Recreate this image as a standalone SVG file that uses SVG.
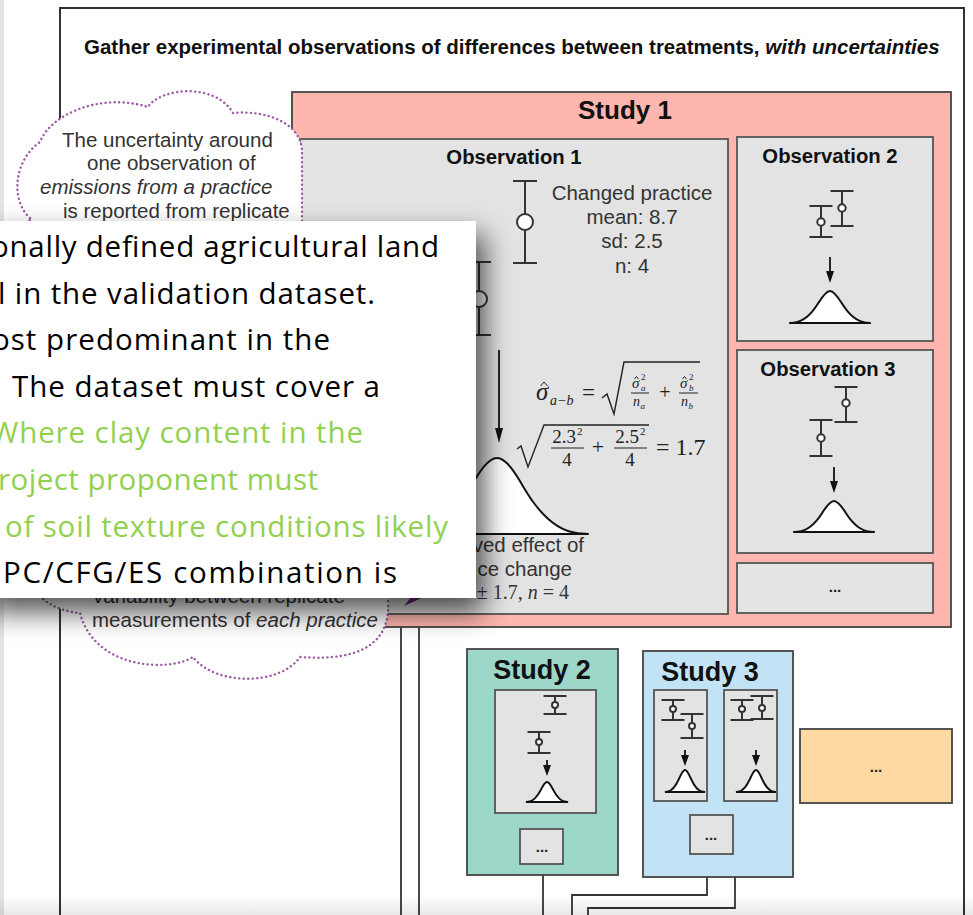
<svg xmlns="http://www.w3.org/2000/svg" xmlns:xlink="http://www.w3.org/1999/xlink" width="973" height="915" viewBox="0 0 973 915">
<style>
.sans{font-family:"Liberation Sans",Arial,sans-serif}
.serif{font-family:"Liberation Serif","Times New Roman",serif}
.frame{fill:none;stroke:#333;stroke-width:2}
.study1{fill:#ffb6ae;stroke:#444;stroke-width:1.8}
.study2{fill:#9dd7c9;stroke:#444;stroke-width:1.8}
.study3{fill:#c2e3f5;stroke:#444;stroke-width:1.8}
.orange{fill:#ffd9a1;stroke:#444;stroke-width:1.8}
.obs{fill:#e3e3e3;stroke:#555;stroke-width:1.8}
.eb{fill:none;stroke:#333;stroke-width:2}
.ebc{fill:#fff;stroke:#333;stroke-width:2}
.bell{fill:#fff;stroke:#111;stroke-width:2}
.conn{fill:none;stroke:#333;stroke-width:1.8}
.head{fill:#111}
.hat{fill:none;stroke:#222;stroke-width:1}
.ttl{font-weight:bold;fill:#111}
.lbl{fill:#333;font-size:20.5px}
.dots{font-weight:bold;font-size:15px;fill:#222}
.cloud{fill:#fff;stroke:#9a5aa0;stroke-width:2.4;stroke-dasharray:0.1 4.4;stroke-linecap:round}
.ov{font-family:"Open Sans","Noto Sans",sans-serif;font-size:29.5px}
.blk{fill:#000}
.grn{fill:#92d050}
</style>
<defs>
<path id="bellp" class="bell" vector-effect="non-scaling-stroke" d="M-3.4 0 L-3 -0.0111 C-2.333 -0.0333 -1.667 -0.2022 -1 -0.6065 C-0.667 -0.8087 -0.333 -1 0 -1 C0.333 -1 0.667 -0.8087 1 -0.6065 C1.667 -0.2022 2.333 -0.0333 3 -0.0111 L3.4 0 Z"/>
<filter id="blur" x="-30%" y="-30%" width="160%" height="160%"><feGaussianBlur stdDeviation="14"/></filter>
<linearGradient id="bot" x1="0" y1="0" x2="0" y2="1"><stop offset="0" stop-color="#000" stop-opacity="0"/><stop offset="1" stop-color="#000" stop-opacity="0.09"/></linearGradient>
</defs>
<rect x="0" y="0" width="973" height="915" fill="#fff"/>
<rect x="0" y="0" width="4" height="915" fill="#e4e4e4"/>

<g id="frame">
<rect class="frame" x="60" y="8" width="904" height="920"/>
<text class="sans ttl" x="84" y="54" font-size="20.5px">Gather experimental observations of differences between treatments, <tspan font-style="italic">with uncertainties</tspan></text>
</g>

<g id="connectors">
<path class="conn" d="M401 627 V915 M419 627 V915"/>
<path class="conn" d="M543 875 V915"/>
<path class="conn" d="M707 877 V895 H572 V915"/>
<path class="conn" d="M735 877 V908 H588 V915"/>
</g>

<g id="study1">
<rect class="study1" x="292" y="92" width="659" height="535"/>
<text class="sans ttl" x="625" y="119" font-size="26px" text-anchor="middle">Study 1</text>
</g>

<g id="observation1">
<rect class="obs" x="300" y="139" width="428" height="475"/>
<text class="sans ttl" x="514" y="164" font-size="20.3px" text-anchor="middle">Observation 1</text>
<path class="eb" d="M525 181 V263 M513 181 H537 M513 263 H537"/>
<circle class="ebc" cx="525" cy="222" r="8"/>
<text class="sans lbl" text-anchor="middle"><tspan x="632" y="200">Changed practice</tspan><tspan x="632" y="224">mean: 8.7</tspan><tspan x="632" y="248">sd: 2.5</tspan><tspan x="632" y="273">n: 4</tspan></text>
<path class="eb" d="M479 262 V335 M467 262 H491 M467 335 H491"/>
<circle class="ebc" cx="479" cy="299" r="8"/>
<line x1="499" y1="350" x2="499" y2="432" stroke="#111" stroke-width="1.8"/>
<polygon class="head" points="495,428 503,428 499,443"/>
<use xlink:href="#bellp" transform="translate(497,534) scale(27,76)"/>
<text class="sans lbl" text-anchor="end"><tspan x="584" y="552">ved effect of</tspan><tspan x="572" y="576">ce change</tspan></text>
<text class="serif" x="569" y="599" font-size="20px" fill="#333" text-anchor="end">± 1.7, <tspan font-style="italic">n</tspan> = 4</text>
<g class="serif" fill="#222">
<text x="536" y="400" font-size="25px" font-style="italic">σ</text>
<polyline class="hat" points="540.5,386 544,382 547.5,386" stroke-width="1.3"/>
<text x="550" y="405" font-size="14px" font-style="italic">a−b</text>
<text x="582" y="400" font-size="23px">=</text>
<polyline points="602,398 607,394 614,414 624,362 700,362" fill="none" stroke="#222" stroke-width="1.4"/>
<text x="632" y="388" font-size="15px" font-style="italic">σ</text>
<polyline class="hat" points="634.5,379 636.5,376.5 638.5,379"/>
<text x="641" y="380" font-size="9px">2</text>
<text x="641" y="391" font-size="9px" font-style="italic">a</text>
<line x1="631" y1="393" x2="649" y2="393" stroke="#222" stroke-width="1"/>
<text x="633" y="406" font-size="14px" font-style="italic">n</text>
<text x="640.5" y="409" font-size="9px" font-style="italic">a</text>
<text x="665" y="399" font-size="20px" text-anchor="middle">+</text>
<text x="680" y="388" font-size="15px" font-style="italic">σ</text>
<polyline class="hat" points="682.5,379 684.5,376.5 686.5,379"/>
<text x="689" y="380" font-size="9px">2</text>
<text x="689" y="391" font-size="9px" font-style="italic">b</text>
<line x1="679" y1="393" x2="698" y2="393" stroke="#222" stroke-width="1"/>
<text x="681" y="406" font-size="14px" font-style="italic">n</text>
<text x="688.5" y="409" font-size="9px" font-style="italic">b</text>
<polyline points="517,449 521,446 528,467 544,425 649,425" fill="none" stroke="#222" stroke-width="1.4"/>
<text x="564" y="443" font-size="19px" text-anchor="middle">2.3</text>
<text x="577" y="435" font-size="11px">2</text>
<line x1="551" y1="448" x2="584" y2="448" stroke="#222" stroke-width="1"/>
<text x="567" y="466" font-size="19px" text-anchor="middle">4</text>
<text x="598" y="454" font-size="22px" text-anchor="middle">+</text>
<text x="627" y="443" font-size="19px" text-anchor="middle">2.5</text>
<text x="640" y="435" font-size="11px">2</text>
<line x1="614" y1="448" x2="647" y2="448" stroke="#222" stroke-width="1"/>
<text x="630" y="466" font-size="19px" text-anchor="middle">4</text>
<text x="656" y="455" font-size="24px">= 1.7</text>
</g>
</g>

<g id="observation2">
<rect class="obs" x="737" y="137" width="196" height="204"/>
<text class="sans ttl" x="830" y="163" font-size="20.3px" text-anchor="middle">Observation 2</text>
<path class="eb" d="M821 206 V237 M809.5 206 H832.5 M809.5 237 H832.5 M842 191 V226 M830.5 191 H853.5 M830.5 226 H853.5"/>
<circle class="ebc" cx="821" cy="222" r="3.7"/>
<circle class="ebc" cx="842" cy="208" r="3.7"/>
<line x1="830" y1="257" x2="830" y2="273" stroke="#111" stroke-width="1.8"/>
<polygon class="head" points="826,271 834,271 830,283"/>
<use xlink:href="#bellp" transform="translate(830,323) scale(12,32)"/>
</g>

<g id="observation3">
<rect class="obs" x="737" y="350" width="196" height="203"/>
<text class="sans ttl" x="828" y="376" font-size="20.3px" text-anchor="middle">Observation 3</text>
<path class="eb" d="M846 387 V422 M834.5 387 H857.5 M834.5 422 H857.5 M821 420 V456 M809.5 420 H832.5 M809.5 456 H832.5"/>
<circle class="ebc" cx="846" cy="403" r="3.7"/>
<circle class="ebc" cx="821" cy="438" r="3.7"/>
<line x1="834" y1="467" x2="834" y2="483" stroke="#111" stroke-width="1.8"/>
<polygon class="head" points="830,481 838,481 834,493"/>
<use xlink:href="#bellp" transform="translate(834,532) scale(12,31)"/>
</g>

<g id="observation-more">
<rect class="obs" x="737" y="563" width="196" height="50"/>
<text class="sans dots" x="835" y="592" text-anchor="middle">...</text>
</g>

<g id="study2">
<rect class="study2" x="467" y="649" width="151" height="226"/>
<text class="sans ttl" x="542" y="679" font-size="27px" text-anchor="middle">Study 2</text>
<rect class="obs" x="495" y="690" width="101" height="123"/>
<path class="eb" d="M555 696 V714 M543.5 696 H566.5 M543.5 714 H566.5 M539 732 V753 M527.5 732 H550.5 M527.5 753 H550.5"/>
<circle class="ebc" cx="555" cy="705" r="3"/>
<circle class="ebc" cx="539" cy="742" r="3"/>
<line x1="547" y1="760" x2="547" y2="768" stroke="#111" stroke-width="1.8"/>
<polygon class="head" points="543,765 551,765 547,776"/>
<use xlink:href="#bellp" transform="translate(547,802) scale(6.2,20)"/>
<rect class="obs" x="520" y="829" width="43" height="35"/>
<text class="sans dots" x="542" y="852" text-anchor="middle">...</text>
</g>

<g id="study3">
<rect class="study3" x="643" y="651" width="150" height="226"/>
<text class="sans ttl" x="710" y="681" font-size="27px" text-anchor="middle">Study 3</text>
<rect class="obs" x="654" y="690" width="53" height="111"/>
<path class="eb" d="M673 700 V720 M661.5 700 H684.5 M661.5 720 H684.5 M692 714 V738 M680.5 714 H703.5 M680.5 738 H703.5"/>
<circle class="ebc" cx="673" cy="709" r="3"/>
<circle class="ebc" cx="692" cy="726" r="3"/>
<line x1="685" y1="750" x2="685" y2="757" stroke="#111" stroke-width="1.8"/>
<polygon class="head" points="681,755 689,755 685,766"/>
<use xlink:href="#bellp" transform="translate(685,792) scale(5.9,22)"/>
<rect class="obs" x="724" y="690" width="53" height="111"/>
<path class="eb" d="M742 700 V720 M730.5 700 H753.5 M730.5 720 H753.5 M762 696 V719 M750.5 696 H773.5 M750.5 719 H773.5"/>
<circle class="ebc" cx="742" cy="709" r="3"/>
<circle class="ebc" cx="762" cy="708" r="3"/>
<line x1="756" y1="750" x2="756" y2="757" stroke="#111" stroke-width="1.8"/>
<polygon class="head" points="752,755 760,755 756,766"/>
<use xlink:href="#bellp" transform="translate(756,792) scale(5.9,22)"/>
<rect class="obs" x="690" y="815" width="43" height="39"/>
<text class="sans dots" x="711" y="840" text-anchor="middle">...</text>
</g>

<g id="study-more">
<rect class="orange" x="800" y="729" width="152" height="74"/>
<text class="sans dots" x="876" y="772" text-anchor="middle">...</text>
</g>

<g id="cloud">
<path class="cloud" d="M30 218 C10 200 14 160 40 142 C50 115 100 92 148 107 C160 88 215 82 233 113 C265 110 300 122 302 150 L302 230 L388 560 L388 600 C391 640 365 662 300 657 C280 686 215 686 193 657 C170 672 95 670 80 613 C65 612 45 605 37 592 L20 300 Z"/>
<text class="sans lbl"><tspan x="62" y="147">The uncertainty around</tspan><tspan x="87" y="170">one observation of</tspan><tspan x="40" y="194" font-style="italic">emissions from a practice</tspan><tspan x="63" y="218">is reported from replicate</tspan></text>
<text class="sans lbl"><tspan x="93" y="603">variability between replicate</tspan><tspan x="92" y="627">measurements of <tspan font-style="italic">each practice</tspan></tspan></text>
<polygon points="404,606 426,596 412,596" fill="#6a2a7a"/>
</g>

<g id="overlay">
<rect x="-12" y="235" width="496" height="377" fill="#000" opacity="0.68" filter="url(#blur)"/>
<rect x="-20" y="221" width="496" height="377" fill="#fff"/>
<g class="ov">
<text class="blk" x="-9" y="257" textLength="448" lengthAdjust="spacing">onally defined agricultural land</text>
<text class="blk" x="-2" y="303.5" textLength="377" lengthAdjust="spacing">l in the validation dataset.</text>
<text class="blk" x="-8" y="350" textLength="338" lengthAdjust="spacing">ost predominant in the</text>
<text class="blk" x="12" y="396.5" textLength="368" lengthAdjust="spacing">The dataset must cover a</text>
<text class="grn" x="-9" y="443" textLength="372" lengthAdjust="spacing">Where clay content in the</text>
<text class="grn" x="-2" y="490" textLength="320" lengthAdjust="spacing">roject proponent must</text>
<text class="grn" x="5" y="537" textLength="443" lengthAdjust="spacing">of soil texture conditions likely</text>
<text class="blk" x="3" y="583" textLength="394" lengthAdjust="spacing">PC/CFG/ES combination is</text>
</g>
</g>
<rect x="0" y="895" width="973" height="20" fill="url(#bot)"/>
</svg>
